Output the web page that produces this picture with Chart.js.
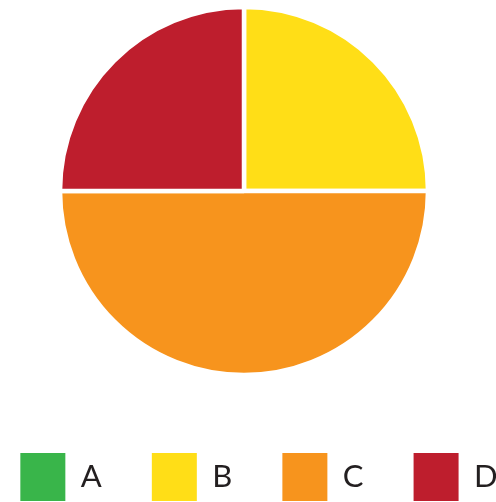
<!DOCTYPE html>
<html><head><meta charset="utf-8">
<script src="https://cdn.jsdelivr.net/npm/chart.js@4/dist/chart.umd.min.js"></script>
<style>
html,body{margin:0;padding:0;overflow:hidden;background:#fff;width:496px;height:502px;position:relative}
#wrap{position:absolute;left:-76px;top:0;width:640px;height:511px}
</style></head>
<body><div id="wrap"><canvas id="c"></canvas></div>
<script>
const categories = ['A', 'B', 'C', 'D'];
const values = [0, 25, 50, 25];
const colors = ['#39B54A', '#FFDE17', '#F7941D', '#BE1E2D'];

const legendShift = {
  id: 'legendShift',
  afterLayout(chart) {
    if (chart.legend) { chart.legend.left += 15; chart.legend.right += 15; }
  }
};

new Chart(document.getElementById('c'), {
  type: 'pie',
  data: {
    labels: categories,
    datasets: [{
      data: values,
      backgroundColor: colors,
      borderColor: '#ffffff',
      borderWidth: 4.5,
      radius: 184
    }]
  },
  options: {
    responsive: true,
    maintainAspectRatio: false,
    animation: false,
    plugins: {
      tooltip: { enabled: false },
      legend: {
        position: 'bottom',
        title: { display: true, text: ' ', font: { size: 1 }, padding: { top: 9.9, bottom: 9.9 } },
        labels: {
          boxWidth: 45,
          boxHeight: 48,
          padding: 50,
          color: '#231F20',
          font: { family: 'Lato', size: 31 },
          generateLabels(chart) {
            const items = Chart.overrides.doughnut.plugins.legend.labels.generateLabels(chart);
            items.forEach(i => { i.lineWidth = 0; });
            return items;
          }
        }
      }
    }
  },
  plugins: [legendShift]
});
</script>
</body></html>
